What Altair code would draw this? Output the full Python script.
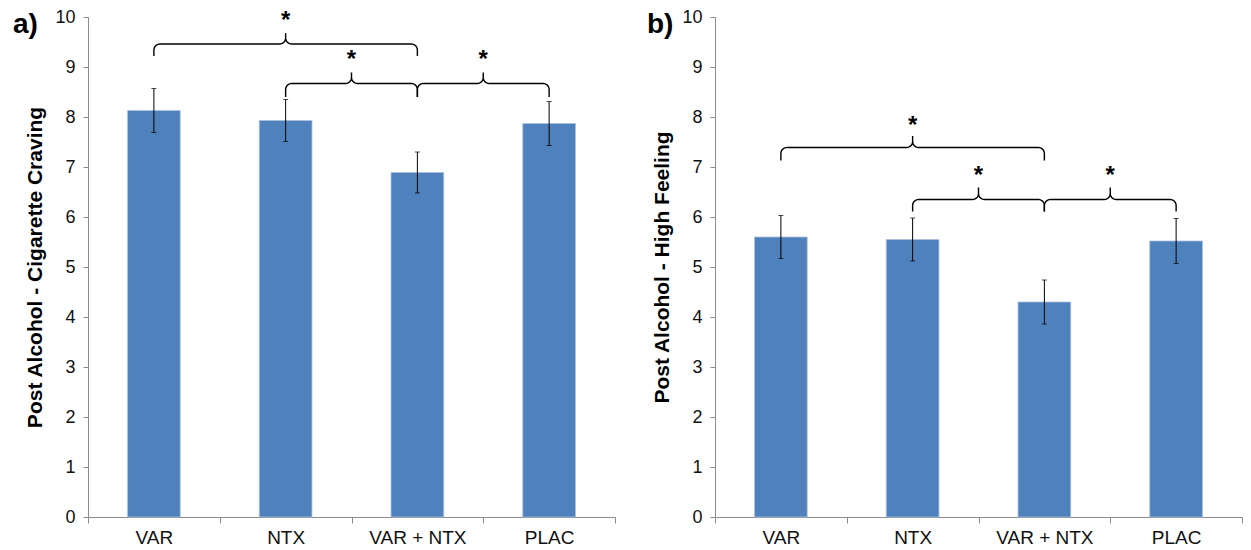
import altair as alt
import numpy as np
import pandas as pd

categories = ["VAR", "NTX", "VAR + NTX", "PLAC"]

craving_mean = [8.13, 7.93, 6.89, 7.87]
craving_err = [0.44, 0.42, 0.41, 0.44]

high_mean = [5.60, 5.55, 4.30, 5.52]
high_err = [0.43, 0.43, 0.44, 0.45]

# brackets: (left category, right category, bar level, end level, tip level, star level)
craving_brackets = [
    (0, 2, 9.46, 9.22, 9.68, 10.06),
    (1, 2, 8.67, 8.40, 8.89, 9.28),
    (2, 3, 8.67, 8.40, 8.89, 9.28),
]
high_brackets = [
    (0, 2, 7.39, 7.13, 7.62, 7.97),
    (1, 2, 6.35, 6.11, 6.59, 6.97),
    (2, 3, 6.35, 6.11, 6.59, 6.97),
]

W, H = 527, 500
BAR = "#4F81BD"
GRAY = "#8C8C8C"
FONT = "Liberation Sans"


def brace_points(xl, xr, yh, ye, yt, px_x, px_y, r_px=6, n=8):
    rx, ry = r_px / px_x, r_px / px_y
    xm = (xl + xr) / 2
    pts = [(xl, ye)]
    cx, cy = xl + rx, yh - ry
    for t in np.linspace(np.pi, np.pi / 2, n):
        pts.append((cx + rx * np.cos(t), cy + ry * np.sin(t)))
    cx, cy = xm - rx, yh + ry
    for t in np.linspace(-np.pi / 2, 0, n):
        pts.append((cx + rx * np.cos(t), cy + ry * np.sin(t)))
    pts.append((xm, yt))
    cx, cy = xm + rx, yh + ry
    for t in np.linspace(np.pi, 1.5 * np.pi, n):
        pts.append((cx + rx * np.cos(t), cy + ry * np.sin(t)))
    cx, cy = xr - rx, yh - ry
    for t in np.linspace(np.pi / 2, 0, n):
        pts.append((cx + rx * np.cos(t), cy + ry * np.sin(t)))
    pts.append((xr, ye))
    return pts


def panel(means, errs, brackets, ytitle, label, lab_x, lab_y):
    df = pd.DataFrame({
        "cat": categories,
        "mean": means,
        "low": [m - e for m, e in zip(means, errs)],
        "high": [m + e for m, e in zip(means, errs)],
    })
    caps = pd.concat([
        pd.DataFrame({"cat": df["cat"], "v": df["low"]}),
        pd.DataFrame({"cat": df["cat"], "v": df["high"]}),
    ])
    yscale = alt.Scale(domain=[0, 10], nice=False, zero=True)
    yaxis = alt.Axis(title=ytitle, values=list(range(0, 11)), grid=False,
                     labelFontSize=18, labelColor="#111111", labelFont=FONT,
                     domainColor=GRAY, tickColor=GRAY, tickSize=5,
                     labelPadding=8, titleFontSize=21, titleFont=FONT,
                     titleFontWeight="bold", titleColor="black",
                     titlePadding=9)
    bscale = alt.Scale(paddingInner=0, paddingOuter=0)

    bars = alt.Chart(df).mark_bar(
        color=BAR, width=alt.RelativeBandSize(0.4), stroke="#A9C1E0", strokeWidth=0.8
    ).encode(
        x=alt.X("cat:N", sort=categories, scale=bscale,
                axis=alt.Axis(title=None, tickBand="extent", labelAngle=0,
                              labelFontSize=19, labelColor="#111111", labelFont=FONT,
                              domainColor=GRAY, tickColor=GRAY, tickSize=6,
                              labelPadding=5)),
        y=alt.Y("mean:Q", scale=yscale, axis=yaxis),
    )
    rules = alt.Chart(df).mark_rule(color="black", strokeWidth=1).encode(
        x=alt.X("cat:N", sort=categories, scale=bscale, axis=None),
        y=alt.Y("low:Q", scale=yscale, axis=yaxis),
        y2="high:Q",
    )
    capm = alt.Chart(caps).mark_tick(color="black", thickness=1, size=5,
                                     orient="horizontal").encode(
        x=alt.X("cat:N", sort=categories, scale=bscale, axis=None),
        y=alt.Y("v:Q", scale=yscale, axis=yaxis),
    )

    rows = []
    stars = []
    for i, (a, b, yh, ye, yt, ys) in enumerate(brackets):
        xl, xr = a + 0.5, b + 0.5
        for k, (px, py) in enumerate(brace_points(xl, xr, yh, ye, yt, W / 4, H / 10)):
            rows.append({"id": i, "o": k, "x": px, "y": py})
        stars.append({"x": (xl + xr) / 2, "y": ys})
    bdf = pd.DataFrame(rows)
    sdf = pd.DataFrame(stars)
    xq = alt.Scale(domain=[0, 4], nice=False, zero=False)

    braces = alt.Chart(bdf).mark_line(color="black", strokeWidth=1.4).encode(
        x=alt.X("x:Q", scale=xq, axis=None),
        y=alt.Y("y:Q", scale=yscale, axis=yaxis),
        detail="id:N",
        order="o:Q",
    )
    star = alt.Chart(sdf).mark_text(
        text="*", fontSize=24, fontWeight="bold", font=FONT, baseline="top",
        dy=-5, color="black"
    ).encode(
        x=alt.X("x:Q", scale=xq, axis=None),
        y=alt.Y("y:Q", scale=yscale, axis=yaxis),
    )
    lab = alt.Chart(pd.DataFrame({"t": [label]})).mark_text(
        fontSize=28, fontWeight="bold", font=FONT, align="left",
        baseline="alphabetic", color="black"
    ).encode(x=alt.value(lab_x), y=alt.value(lab_y), text="t:N")

    return alt.layer(bars, rules, capm, braces, star, lab).resolve_scale(
        x="independent"
    ).properties(width=W, height=H)


pa = panel(craving_mean, craving_err, craving_brackets,
           "Post Alcohol - Cigarette Craving", "a)", -75, 16)
pb = panel(high_mean, high_err, high_brackets,
           "Post Alcohol - High Feeling", "b)", -68, 16)

chart = alt.hconcat(pa, pb, spacing=31).properties(
    padding={"left": 5, "top": 0, "right": 0, "bottom": 0},
    background="white",
).configure_view(stroke=None)

chart.save("out.html", embed_options={"renderer": "svg", "actions": False})
